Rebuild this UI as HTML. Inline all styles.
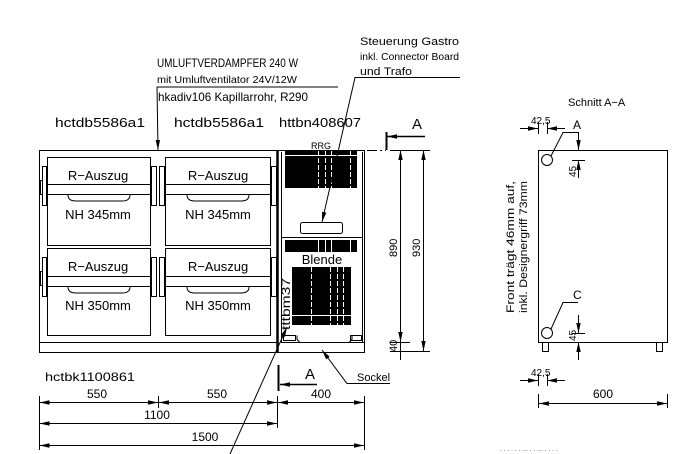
<!DOCTYPE html>
<html><head><meta charset="utf-8"><style>
html,body{margin:0;padding:0;background:#fff}
svg{display:block}
text{font-family:"Liberation Sans",sans-serif;fill:#000}
</style></head><body>
<svg width="694" height="454" viewBox="0 0 694 454" xmlns="http://www.w3.org/2000/svg">
<defs>
<marker id="ar" markerWidth="10" markerHeight="6" refX="10" refY="3" orient="auto" markerUnits="userSpaceOnUse"><path d="M0,0.8 L10,3 L0,5.2 z" fill="#000"/></marker>
<marker id="al" markerWidth="10" markerHeight="6" refX="0" refY="3" orient="auto" markerUnits="userSpaceOnUse"><path d="M10,0.8 L0,3 L10,5.2 z" fill="#000"/></marker>
</defs>
<g stroke="#000" fill="none" stroke-width="1">
<!-- main cabinet -->
<rect x="39.5" y="150.5" width="325" height="202"/>
<line x1="39" y1="342.5" x2="277" y2="342.5"/>
<!-- drawers -->
<rect x="47.5" y="157.5" width="103" height="88"/>
<line x1="47" y1="184.5" x2="150" y2="184.5"/><line x1="47" y1="194.5" x2="150" y2="194.5"/>
<path d="M68,195 q0,6 8,6 h46 q8,0 8,-6"/>
<rect x="165.5" y="157.5" width="105" height="88"/>
<line x1="165" y1="184.5" x2="270" y2="184.5"/><line x1="165" y1="194.5" x2="270" y2="194.5"/>
<path d="M187,195 q0,6 8,6 h46 q8,0 8,-6"/>
<rect x="47.5" y="248.5" width="103" height="87"/>
<line x1="47" y1="276.5" x2="150" y2="276.5"/><line x1="47" y1="286.5" x2="150" y2="286.5"/>
<path d="M68,287 q0,6 8,6 h46 q8,0 8,-6"/>
<rect x="165.5" y="248.5" width="105" height="87"/>
<line x1="165" y1="276.5" x2="270" y2="276.5"/><line x1="165" y1="286.5" x2="270" y2="286.5"/>
<path d="M187,287 q0,6 8,6 h46 q8,0 8,-6"/>
<!-- hinges -->
<rect x="42.5" y="166.5" width="4" height="39"/><rect x="40.5" y="180.5" width="2" height="14"/>
<rect x="151.5" y="166.5" width="5" height="39"/><rect x="159.5" y="166.5" width="5" height="39"/>
<rect x="271.5" y="166.5" width="5" height="39"/>
<rect x="42.5" y="257.5" width="4" height="39"/><rect x="40.5" y="271.5" width="2" height="14"/>
<rect x="151.5" y="257.5" width="5" height="39"/><rect x="159.5" y="257.5" width="5" height="39"/>
<rect x="271.5" y="257.5" width="5" height="39"/>
<!-- right module -->
<line x1="277.5" y1="150" x2="277.5" y2="352" stroke-width="2.5"/>
<line x1="281.5" y1="152" x2="281.5" y2="342"/>
<line x1="362.5" y1="152" x2="362.5" y2="342"/>
<line x1="281" y1="237.5" x2="362" y2="237.5"/>
<line x1="281" y1="342.5" x2="364" y2="342.5"/>
<rect x="300.5" y="222.5" width="42" height="11" rx="2"/>
<rect x="283.5" y="335.5" width="12" height="5"/><rect x="350.5" y="335.5" width="11" height="5"/>
<path d="M297,335.5 v4 l3,3 h49 l3,-3 v-4"/>
</g>
<!-- grills -->
<rect x="285" y="151" width="72" height="37" fill="#000"/>
<rect x="285" y="240" width="72" height="12" fill="#000"/>
<rect x="292" y="267" width="59" height="58" fill="#000"/>
<g stroke="#fff" stroke-width="1" stroke-dasharray="5,2">
<line x1="285" y1="155.5" x2="357" y2="155.5" stroke-dasharray="none"/>
<line x1="318.5" y1="151" x2="318.5" y2="188"/><line x1="325.5" y1="151" x2="325.5" y2="188"/>
<line x1="331.5" y1="151" x2="331.5" y2="188"/><line x1="350.5" y1="151" x2="350.5" y2="188"/>
<line x1="318.5" y1="240" x2="318.5" y2="252" stroke-dasharray="none"/><line x1="325.5" y1="240" x2="325.5" y2="252" stroke-dasharray="none"/>
<line x1="331.5" y1="240" x2="331.5" y2="252" stroke-dasharray="none"/><line x1="350.5" y1="240" x2="350.5" y2="252" stroke-dasharray="none"/>
<line x1="311.5" y1="267" x2="311.5" y2="325"/><line x1="330.5" y1="267" x2="330.5" y2="325"/>
<line x1="337.5" y1="267" x2="337.5" y2="325"/><line x1="343.5" y1="267" x2="343.5" y2="325"/>
<line x1="292" y1="315.5" x2="351" y2="315.5" stroke-dasharray="none"/>
</g>
<!-- section markers -->
<g stroke="#000" fill="none">
<line x1="277" y1="150.5" x2="386" y2="150.5" stroke-dasharray="10,3,2,3"/>
<line x1="386.5" y1="132" x2="386.5" y2="150" stroke-width="2"/>
<line x1="425" y1="136.5" x2="387" y2="136.5" stroke-width="1.5" marker-end="url(#ar)"/>
<line x1="278.5" y1="365" x2="278.5" y2="391" stroke-width="2"/>
<line x1="317" y1="384.5" x2="280" y2="384.5" stroke-width="1.5" marker-end="url(#ar)"/>
<!-- leaders -->
<polyline points="338,87 157,87 158,150" marker-end="url(#ar)"/>
<polyline points="460,77.5 355,77.5 322,222" marker-end="url(#ar)"/>
<polyline points="390,383.5 347,383.5 322,350" marker-end="url(#ar)"/>
<line x1="230" y1="454" x2="287" y2="327" marker-end="url(#ar)"/>
<!-- vertical dims -->
<line x1="390" y1="150.5" x2="430" y2="150.5"/>
<line x1="390" y1="342.5" x2="410" y2="342.5"/>
<line x1="390" y1="351.5" x2="430" y2="351.5"/>
<line x1="400.5" y1="150" x2="400.5" y2="342" marker-start="url(#al)" marker-end="url(#ar)"/>
<line x1="423.5" y1="150" x2="423.5" y2="351" marker-start="url(#al)" marker-end="url(#ar)"/>
<line x1="400.5" y1="342" x2="400.5" y2="360"/>
<!-- bottom dims -->
<line x1="39.5" y1="396" x2="39.5" y2="450"/>
<line x1="158.5" y1="396" x2="158.5" y2="408"/>
<line x1="277.5" y1="396" x2="277.5" y2="428"/>
<line x1="364.5" y1="396" x2="364.5" y2="450"/>
<line x1="39.5" y1="402.5" x2="158" y2="402.5" marker-start="url(#al)" marker-end="url(#ar)"/>
<line x1="159" y1="402.5" x2="277" y2="402.5" marker-start="url(#al)" marker-end="url(#ar)"/>
<line x1="278" y1="402.5" x2="364" y2="402.5" marker-start="url(#al)" marker-end="url(#ar)"/>
<line x1="39.5" y1="423.5" x2="277" y2="423.5" marker-start="url(#al)" marker-end="url(#ar)"/>
<line x1="39.5" y1="445.5" x2="364" y2="445.5" marker-start="url(#al)" marker-end="url(#ar)"/>
<!-- section view -->
<rect x="538.5" y="150.5" width="129" height="192"/>
<rect x="542.5" y="342.5" width="6" height="9"/><rect x="656.5" y="342.5" width="6" height="9"/>
<circle cx="547" cy="160" r="5.5"/><circle cx="547" cy="333" r="5.5"/>
<polyline points="551,156 563,132.5 578,132.5"/>
<polyline points="551,329 563,302.5 578,302.5"/>
<line x1="578.5" y1="132" x2="578.5" y2="150" marker-end="url(#ar)"/>
<line x1="578.5" y1="178" x2="578.5" y2="160" marker-end="url(#ar)"/>
<line x1="572" y1="160.5" x2="585" y2="160.5"/>
<line x1="578.5" y1="315" x2="578.5" y2="333" marker-end="url(#ar)"/>
<line x1="578.5" y1="360" x2="578.5" y2="342" marker-end="url(#ar)"/>
<line x1="572" y1="333.5" x2="585" y2="333.5"/><line x1="572" y1="342.5" x2="585" y2="342.5"/>
<line x1="520" y1="128.5" x2="538" y2="128.5" marker-end="url(#ar)"/>
<line x1="565" y1="128.5" x2="547" y2="128.5" marker-end="url(#ar)"/>
<line x1="538.5" y1="122" x2="538.5" y2="134"/><line x1="547.5" y1="122" x2="547.5" y2="134"/>
<line x1="520" y1="380.5" x2="538" y2="380.5" marker-end="url(#ar)"/>
<line x1="565" y1="380.5" x2="547" y2="380.5" marker-end="url(#ar)"/>
<line x1="538.5" y1="374" x2="538.5" y2="386"/><line x1="547.5" y1="374" x2="547.5" y2="386"/>
<line x1="538.5" y1="394" x2="538.5" y2="408"/><line x1="667.5" y1="394" x2="667.5" y2="408"/>
<line x1="539" y1="403.5" x2="667" y2="403.5" marker-start="url(#al)" marker-end="url(#ar)"/>
</g>
<!-- text -->
<g font-size="12">
<text x="157" y="67" textLength="141" lengthAdjust="spacingAndGlyphs">UMLUFTVERDAMPFER 240 W</text>
<text x="157" y="83" font-size="10" textLength="140" lengthAdjust="spacingAndGlyphs">mit Umluftventilator 24V/12W</text>
<text x="158" y="101" textLength="150" lengthAdjust="spacingAndGlyphs">hkadiv106 Kapillarrohr, R290</text>
<text x="360" y="45" font-size="11" textLength="99" lengthAdjust="spacingAndGlyphs">Steuerung Gastro</text>
<text x="360" y="60" font-size="10" textLength="99" lengthAdjust="spacingAndGlyphs">inkl. Connector Board</text>
<text x="360" y="75" font-size="11" textLength="52" lengthAdjust="spacingAndGlyphs">und Trafo</text>
<text x="55" y="127" font-size="13" textLength="90" lengthAdjust="spacingAndGlyphs">hctdb5586a1</text>
<text x="174" y="127" font-size="13" textLength="90" lengthAdjust="spacingAndGlyphs">hctdb5586a1</text>
<text x="279" y="127" font-size="13" textLength="82" lengthAdjust="spacingAndGlyphs">httbn408607</text>
<text x="412" y="129" font-size="15">A</text>
<text x="311" y="149" font-size="9">RRG</text>
<text x="98" y="180" font-size="13" text-anchor="middle">R−Auszug</text>
<text x="98" y="219" font-size="13" text-anchor="middle">NH 345mm</text>
<text x="218" y="180" font-size="13" text-anchor="middle">R−Auszug</text>
<text x="218" y="219" font-size="13" text-anchor="middle">NH 345mm</text>
<text x="98" y="271" font-size="13" text-anchor="middle">R−Auszug</text>
<text x="98" y="310" font-size="13" text-anchor="middle">NH 350mm</text>
<text x="218" y="271" font-size="13" text-anchor="middle">R−Auszug</text>
<text x="218" y="310" font-size="13" text-anchor="middle">NH 350mm</text>
<text x="322" y="264" font-size="13" text-anchor="middle">Blende</text>
<text transform="translate(290,330) rotate(-90)" font-size="12" textLength="52" lengthAdjust="spacingAndGlyphs">tttbm37</text>
<text transform="translate(397,257) rotate(-90)" font-size="11">890</text>
<text transform="translate(420,257) rotate(-90)" font-size="11">930</text>
<text transform="translate(397,352) rotate(-90)" font-size="11">40</text>
<text x="357" y="381" font-size="11">Sockel</text>
<text x="305" y="379" font-size="15">A</text>
<text x="45" y="381" font-size="12" textLength="90" lengthAdjust="spacingAndGlyphs">hctbk1100861</text>
<text x="97" y="398" font-size="12" text-anchor="middle">550</text>
<text x="217" y="398" font-size="12" text-anchor="middle">550</text>
<text x="321" y="398" font-size="12" text-anchor="middle">400</text>
<text x="157" y="419" font-size="12" text-anchor="middle">1100</text>
<text x="205" y="441" font-size="12" text-anchor="middle">1500</text>
<text x="568" y="106" font-size="11">Schnitt A−A</text>
<text x="573" y="129" font-size="12">A</text>
<text x="573" y="299" font-size="12">C</text>
<text x="531" y="124" font-size="10">42,5</text>
<text x="531" y="376" font-size="10">42,5</text>
<text transform="translate(576,177) rotate(-90)" font-size="10">45</text>
<text transform="translate(576,341) rotate(-90)" font-size="10">45</text>
<text x="603" y="398" font-size="12" text-anchor="middle">600</text>
<text transform="translate(514,313) rotate(-90)" font-size="11" textLength="132" lengthAdjust="spacingAndGlyphs">Front trägt 46mm auf,</text>
<text transform="translate(527,313) rotate(-90)" font-size="11" textLength="132" lengthAdjust="spacingAndGlyphs">inkl. Designergriff 73mm</text>
<text x="500" y="452" font-size="6" fill="#bbb">· · · · · · ··· · · ··· · · · ·</text>
</g>
</svg>
</body></html>
